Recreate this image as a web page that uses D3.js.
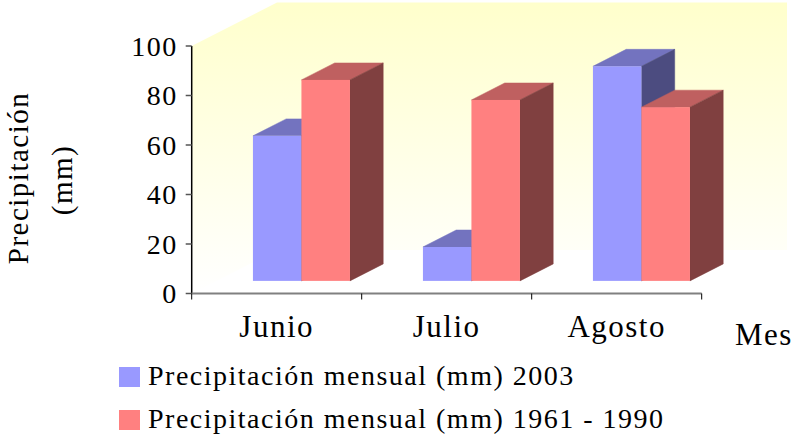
<!DOCTYPE html>
<html>
<head>
<meta charset="utf-8">
<script src="https://cdn.jsdelivr.net/npm/d3@7"></script>
<style>
    body { margin: 0; background: #fff; }
</style>
</head>
<body>
<div id="chart"></div>
<script>
const categories = ["Junio", "Julio", "Agosto"];
const series = ["Precipitación mensual (mm) 2003", "Precipitación mensual (mm) 1961 - 1990"];
const values2003 = [58.6, 13.7, 86.7];
const values1961 = [81.2, 73.1, 70.2];
const yTicks = [0, 20, 40, 60, 80, 100];

const colors = [
    { front: "#9999ff", top: "#7373bf", side: "#4c4c80" },
    { front: "#ff8080", top: "#bf6060", side: "#804040" }
];

const width = 796, height = 436;

const svg = d3.select("#chart")
    .append("svg")
        .attr("width", width)
        .attr("height", height)
        .attr("font-family", "'Liberation Serif', 'Times New Roman', serif")
        .attr("letter-spacing", "1.5px");

// oblique 3d: the floor goes back by this vector
const depth = { dx: 85.3, dy: -43.5 };
const barStart = 0.29, barDepth = 0.39;

const y = d3.scaleLinear()
    .domain([0, 100])
    .range([293.5, 46]);

const x = d3.scaleBand()
    .domain(categories)
    .range([191.7, 701.7]);

const x1 = d3.scaleBand()
    .domain(series)
    .range([0, 97]);

// walls
const grad = svg.append("defs")
    .append("linearGradient")
        .attr("id", "wall")
        .attr("gradientUnits", "userSpaceOnUse")
        .attr("x1", 0).attr("x2", 0)
        .attr("y1", y(100) + depth.dy).attr("y2", y(0));
grad.append("stop").attr("offset", 0).attr("stop-color", "#ffffcc");
grad.append("stop").attr("offset", 1).attr("stop-color", "#ffffff");

const x0 = x.range()[0], xEnd = x.range()[1];
svg.append("path")
    .attr("fill", "url(#wall)")
    .attr("d", d3.line()([
        [x0, y(0)],
        [x0, y(100)],
        [x0 + depth.dx, y(100) + depth.dy],
        [xEnd + depth.dx, y(100) + depth.dy],
        [xEnd + depth.dx, y(0) + depth.dy],
        [x0 + depth.dx, y(0) + depth.dy]
    ]) + "Z");

// bars
const bars = categories.flatMap((c, i) => [
    { cat: c, s: 0, value: values2003[i] },
    { cat: c, s: 1, value: values1961[i] }
]);

const ox = depth.dx * barStart, oy = depth.dy * barStart;
const bx = depth.dx * barDepth, by = depth.dy * barDepth;

const g = svg.selectAll("g.bar")
    .data(bars)
    .enter()
    .append("g")
        .classed("bar", true);

const geom = d => {
    const left = x(d.cat) + (x.bandwidth() - x1.range()[1]) / 2 + x1(series[d.s]) + ox;
    const right = left + x1.bandwidth();
    const top = y(d.value) + oy;
    const bottom = y(0) + oy;
    return { left, right, top, bottom };
};

g.append("path")
    .attr("fill", d => colors[d.s].top)
    .attr("stroke", d => colors[d.s].top)
    .attr("stroke-width", 0.5)
    .attr("d", d => {
        const b = geom(d);
        return d3.line()([[b.left, b.top], [b.left + bx, b.top + by], [b.right + bx, b.top + by], [b.right, b.top]]) + "Z";
    });

g.append("path")
    .attr("fill", d => colors[d.s].side)
    .attr("stroke", d => colors[d.s].side)
    .attr("stroke-width", 0.5)
    .attr("d", d => {
        const b = geom(d);
        return d3.line()([[b.right, b.top], [b.right + bx, b.top + by], [b.right + bx, b.bottom + by], [b.right, b.bottom]]) + "Z";
    });

g.append("rect")
    .attr("fill", d => colors[d.s].front)
    .attr("x", d => geom(d).left)
    .attr("y", d => geom(d).top)
    .attr("width", x1.bandwidth())
    .attr("height", d => geom(d).bottom - geom(d).top);

// y axis
svg.append("line")
    .attr("x1", x0).attr("x2", x0)
    .attr("y1", y(0)).attr("y2", y(100))
    .attr("stroke", "#000")
    .attr("stroke-width", 1.5);

svg.selectAll("line.ytick")
    .data(yTicks)
    .enter()
    .append("line")
        .classed("ytick", true)
        .attr("x1", x0 - 6).attr("x2", x0)
        .attr("y1", d => y(d)).attr("y2", d => y(d))
        .attr("stroke", "#555")
        .attr("stroke-width", 1.5);

svg.selectAll("text.ylabel")
    .data(yTicks)
    .enter()
    .append("text")
        .classed("ylabel", true)
        .attr("x", x0 - 14)
        .attr("y", d => y(d))
        .attr("dy", "0.34em")
        .attr("text-anchor", "end")
        .attr("font-size", 28)
        .text(d => d);

// x axis
svg.append("line")
    .attr("x1", x0).attr("x2", xEnd)
    .attr("y1", y(0)).attr("y2", y(0))
    .attr("stroke", "#808080")
    .attr("stroke-width", 2);

svg.selectAll("line.xtick")
    .data(d3.range(categories.length + 1))
    .enter()
    .append("line")
        .classed("xtick", true)
        .attr("x1", i => x0 + i * x.step())
        .attr("x2", i => x0 + i * x.step())
        .attr("y1", y(0)).attr("y2", y(0) + 6)
        .attr("stroke", "#000")
        .attr("stroke-width", 1);

svg.selectAll("text.xlabel")
    .data(categories)
    .enter()
    .append("text")
        .classed("xlabel", true)
        .attr("x", d => x(d) + x.bandwidth() / 2)
        .attr("y", 337)
        .attr("text-anchor", "middle")
        .attr("font-size", 31)
        .text(d => d);

svg.append("text")
    .attr("x", 735)
    .attr("y", 345)
    .attr("font-size", 31)
    .text("Mes");

// y title
const yTitle = svg.append("g")
    .attr("transform", "rotate(-90)");
yTitle.append("text")
    .attr("x", -178)
    .attr("y", 28)
    .attr("text-anchor", "middle")
    .attr("font-size", 29)
    .text("Precipitación");
yTitle.append("text")
    .attr("x", -180)
    .attr("y", 72)
    .attr("text-anchor", "middle")
    .attr("font-size", 29)
    .text("(mm)");

// legend
const legend = svg.selectAll("g.legend")
    .data(series)
    .enter()
    .append("g")
        .classed("legend", true)
        .attr("transform", (d, i) => `translate(119, ${367 + i * 43})`);

legend.append("rect")
    .attr("width", 21)
    .attr("height", 20)
    .attr("fill", (d, i) => colors[i].front);

legend.append("text")
    .attr("x", 29)
    .attr("y", 18)
    .attr("font-size", 28)
    .text(d => d);
</script>
</body>
</html>
